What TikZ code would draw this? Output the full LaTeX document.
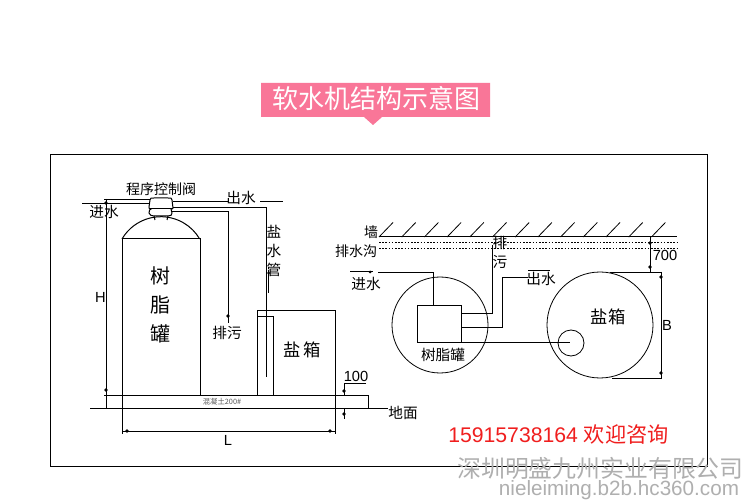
\documentclass[tikz,border=0pt]{standalone}
\usepackage{fontspec}
\setmainfont{Liberation Sans}
\newfontfamily\cjk{Noto Sans CJK SC}
\definecolor{titlepink}{RGB}{249,118,152}
\definecolor{markgrey}{RGB}{175,175,175}
\definecolor{phonered}{RGB}{240,30,30}
\newcommand{\fpx}[1]{\fontsize{#1}{#1}\selectfont}
\tikzset{
  pipeline/.style={line width=0.75pt,color=black},
  thinline/.style={line width=0.6pt,color=black},
  tickdot/.style={fill=black,draw=none},
  midtext/.style={inner sep=0pt,font=\cjk\fpx{11}},
  bigtext/.style={inner sep=0pt,font=\cjk\fpx{15}},
  salttext/.style={inner sep=0pt,font=\cjk\fpx{13}},
  numtext/.style={inner sep=0pt,font=\fpx{11}}
}
\begin{document}
\begin{tikzpicture}[x=0.75pt,y=0.75pt,yscale=-1,xscale=1]
\useasboundingbox (0,0) rectangle (750,502);
\fill [white] (0,0) rectangle (750,502);

%Shape: Title banner
\fill [titlepink] (261,83) -- (490,83) -- (490,117) -- (382,117) -- (373,125) -- (364,117) -- (261,117) -- cycle ;
%Shape: Frame
\draw [pipeline] (50,155) rectangle (707,466) ;

%Shape: Resin tank
\draw [pipeline] (122,395) -- (122,239) -- (200,239) -- (200,395) ;
\draw [pipeline] (122,239) arc (-149.7:-30.3:45) ;
%Shape: Valve
\draw [pipeline,fill=white] (150,200) .. controls (150,198) and (151,198) .. (154,198) -- (168,198) .. controls (171,198) and (172,198) .. (172,200) -- (173,208) .. controls (173,209) and (172,209) .. (171,209) -- (172,213) .. controls (172,215) and (171,216) .. (168,216) -- (154,216) .. controls (151,216) and (150,215) .. (149,213) .. controls (149,210) and (150,209) .. (151,209) .. controls (149,209) and (149,208) .. (149,207) -- cycle ;
\draw [pipeline] (150,209) -- (172,209) ;
\draw [pipeline] (154,216) -- (155,220) ;
\draw [pipeline] (168,216) -- (167,220) ;

%Straight Lines
\draw [pipeline] (82,204) -- (149,204) ;
\draw [pipeline] (173,202) -- (228,202) ;
\draw [pipeline] (260,202) -- (283,202) ;
\draw [pipeline] (173,208) -- (266,208) -- (266,377) ;
\draw [pipeline] (172,212) -- (228,212) -- (228,323) ;
\fill [tickdot] (228,316) circle (1.8) ;
\draw [pipeline] (268.5,270) -- (268.5,293) ;
\fill [tickdot] (268.5,273) circle (1.5) ;

%Shape: Salt box
\draw [pipeline] (257,395) -- (257,311) -- (335,311) -- (335,395) ;
\draw [pipeline] (257,317) -- (273,317) -- (273,395) ;

%Shape: Concrete base
\draw [pipeline] (104,395) -- (368,395) -- (368,408) ;
\draw [pipeline] (90,408) -- (388,408) ;

%Straight Lines: dimensions
\draw [thinline] (104,199) -- (150,199) ;
\draw [thinline] (106,199) -- (106,408) ;
\fill [tickdot] (106,203) circle (1.8) ;
\fill [tickdot] (106,390) circle (1.8) ;
\draw [thinline] (122,395) -- (122,434) ;
\draw [thinline] (335,395) -- (335,434) ;
\draw [thinline] (122,431) -- (335,431) ;
\fill [tickdot] (127,431) circle (1.8) ;
\fill [tickdot] (330,431) circle (1.8) ;
\draw [thinline] (366,383) -- (344,383) -- (344,395) ;
\fill [tickdot] (344,391) circle (1.8) ;
\draw [thinline] (344,408) -- (344,419) ;
\fill [tickdot] (344,414) circle (1.8) ;

%Straight Lines: wall
\draw [pipeline] (379,237) -- (677,237) ;
\foreach \hx in {0,...,12}
  \draw [thinline] (379+\hx*22.7,237) -- (393+\hx*22.7,222.5) ;
\draw [thinline,dash pattern=on 1.2pt off 1.2pt] (379,242) -- (677,242) ;
\draw [thinline,dash pattern=on 1.2pt off 1.2pt] (379,248) -- (677,248) ;

%Shape: Circle
\draw [thinline] (440,325) circle (48) ;
\draw [thinline] (600,325) circle (53) ;
\draw [thinline] (571,343) circle (13) ;
%Shape: Plan of tank
\draw [pipeline] (417,306) rectangle (461,343) ;

%Straight Lines: plan pipes
\draw [pipeline] (350,272) -- (373,272) ;
\fill [tickdot] (370,272) circle (1.5) ;
\draw [pipeline] (378,273) -- (433,273) -- (433,306) ;
\draw [pipeline] (461,314) -- (492,314) -- (492,245) ;
\draw [pipeline] (461,328) -- (502,328) -- (502,278) -- (528,278) ;
\draw [pipeline] (528,271) -- (550,271) ;
\draw [pipeline] (461,343) -- (570,343) ;

%Straight Lines: plan dimensions
\draw [thinline] (650,237) -- (650,272) ;
\fill [tickdot] (650,243) circle (1.8) ;
\fill [tickdot] (650,267) circle (1.8) ;
\draw [thinline] (610,272) -- (662,272) ;
\draw [thinline] (612,378) -- (662,378) ;
\draw [thinline] (661,272) -- (661,378) ;
\fill [tickdot] (661,277) circle (1.8) ;
\fill [tickdot] (661,373) circle (1.8) ;

% Text Node
\node (titletext) at (376.5,99) [text=white,inner sep=0pt,font=\cjk\fpx{19.5}] {软水机结构示意图};
\node (valvetext) at (161,189) [inner sep=0pt,font=\cjk\fpx{10.5}] {程序控制阀};
\node (inlettext) at (104,212) [midtext] {进水};
\node (outlettext) at (241,198) [midtext] {出水};
\node (htext) at (100.5,297) [numtext] {H};
\node (tanka) at (160,276) [bigtext] {树};
\node (tankb) at (160,305) [bigtext] {脂};
\node (tankc) at (160,334) [bigtext] {罐};
\node (draintext) at (227,333) [midtext] {排污};
\node (brinea) at (274,232) [midtext] {盐};
\node (brineb) at (274,251) [midtext] {水};
\node (brinec) at (274,270) [midtext] {管};
\node (salttext) at (302,350) [salttext] {盐\,箱};
\node (concrete) at (222,402) [inner sep=0pt,text=black!65,font=\cjk\fpx{5.5}] {混凝土200\#};
\node (ltext) at (228,440) [numtext] {L};
\node (hundred) at (356,376) [numtext] {100};
\node (groundtext) at (403,413) [midtext] {地面};
\node (walltext) at (371,232) [midtext,font=\cjk\fpx{10.5}] {墙};
\node (ditchtext) at (356,251) [midtext,font=\cjk\fpx{10.5}] {排水沟};
\node (sevenhundred) at (665,255) [numtext] {700};
\node (inletplan) at (366,284) [midtext] {进水};
\node (draina) at (500,243) [midtext] {排};
\node (drainb) at (500,262) [midtext] {污};
\node (outletplan) at (541,279) [midtext] {出水};
\node (saltplan) at (608,317) [salttext] {盐箱};
\node (tankplan) at (443,355) [midtext] {树脂罐};
\node (btext) at (667,325) [numtext] {B};
\node (phone) at (558.5,435) [inner sep=0pt,text=phonered,font=\fpx{15.9}] {15915738164 {\cjk 欢迎咨询}};
\node (company) at (600.5,468) [inner sep=0pt,text=markgrey,font=\cjk\fpx{17.9}] {深圳明盛九州实业有限公司};
\node (website) at (619,490) [inner sep=0pt,text=markgrey,font=\fpx{15.5}] {nieleiming.b2b.hc360.com};

\end{tikzpicture}
\end{document}
